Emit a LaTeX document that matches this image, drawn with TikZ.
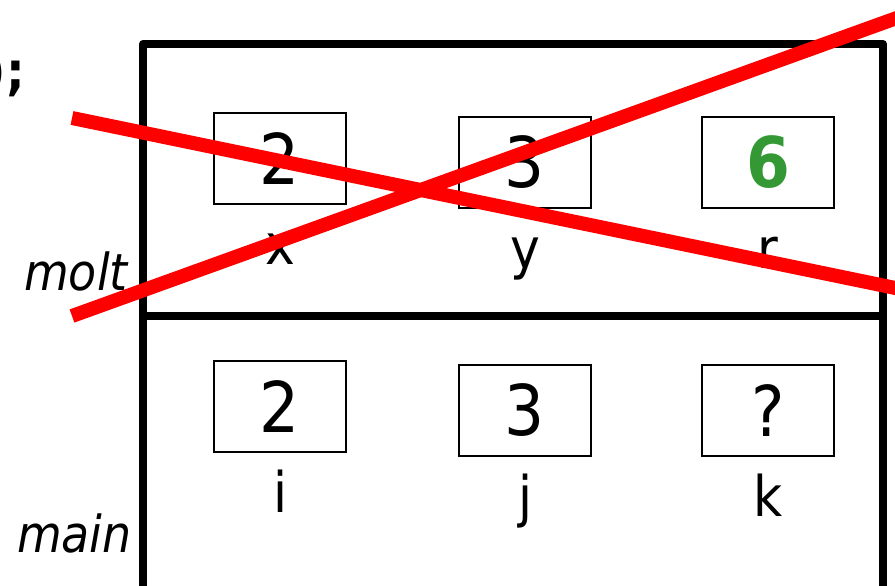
\documentclass[tikz,border=0pt]{standalone}
\usepackage{fontspec}
\setmainfont{DejaVu Sans}[FakeStretch=0.9]
\usetikzlibrary{positioning}
\definecolor{valgreen}{RGB}{52,153,52}
\begin{document}
\begin{tikzpicture}[x=1pt,y=-1pt,
        cell/.style={draw, line width=2pt, minimum width=132pt, minimum height=91pt, inner sep=0pt, font=\fontsize{70}{70}\selectfont},
        varname/.style={inner sep=0pt, text height=40pt, text depth=12pt, font=\fontsize{56}{56}\selectfont},
        framename/.style={inner sep=0pt, font=\fontsize{51}{51}\selectfont\itshape},
        frameline/.style={line width=8pt, line join=round},
        cross/.style={red, line width=14pt}]
        \useasboundingbox (0,0) rectangle (895,586);
        \clip (0,0) rectangle (895,586);
        % frames
        \draw[frameline] (143,44) rectangle (883,316);
        \draw[frameline] (143,316) -- (143,600);
        \draw[frameline] (883,316) -- (883,600);
        \node[inner sep=0pt, anchor=base east, font=\fontsize{52}{52}\selectfont\bfseries] (tail) at (25,89) {);};
        \node[framename, anchor=base east] (molt) at (128,290) {molt};
        \node[framename, anchor=base east] (main) at (132,552) {main};
        % molt
        \node[cell] (x) at (280,158.5) {2};
        \node[cell] (y) at (525,162.5) {3};
        \node[cell, text=valgreen, font=\fontsize{70}{70}\selectfont\bfseries] (r) at (768,162.5) {6};
        \node[varname, below=19pt of x] (xname) {x};
        \node[varname, below=19pt of y] (yname) {y};
        \node[varname, below=19pt of r] (rname) {r};
        % main
        \node[cell] (i) at (280,406.5) {2};
        \node[cell] (j) at (525,410.5) {3};
        \node[cell] (k) at (768,410.5) {?};
        \node[varname, below=19pt of i] (iname) {i};
        \node[varname, below=19pt of j] (jname) {j};
        \node[varname, below=19pt of k] (kname) {k};
        % crossed out
        \coordinate (c1) at (72,118);
        \coordinate (c2) at (905,290);
        \coordinate (c3) at (72,316);
        \coordinate (c4) at (905,15);
        \draw[cross] (c1) -- (c2);
        \draw[cross] (c3) -- (c4);
    \end{tikzpicture}
\end{document}
